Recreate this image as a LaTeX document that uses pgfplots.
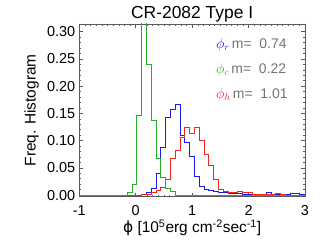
\documentclass[border=0pt]{standalone}
\usepackage{fontspec}
\setmainfont{Liberation Sans}
\newfontfamily\dejavu{DejaVu Sans}
\usepackage{pgfplots}
\pgfplotsset{compat=1.18}
\definecolor{hblue}{RGB}{25,25,245}
\definecolor{hgreen}{RGB}{40,175,40}
\definecolor{hred}{RGB}{245,35,35}
\definecolor{txtgray}{RGB}{115,115,115}
\pgfplotstableread{
x y
-1 0
0.105 0.001
0.19 0.004
0.275 0.012
0.36 0.039
0.445 0.087
0.53 0.142
0.615 0.158
0.70 0.166
0.785 0.110
0.87 0.097
0.955 0.070
1.04 0.035
1.125 0.016
1.21 0.011
1.295 0.008
1.38 0.006
1.465 0.005
1.55 0.004
1.635 0.003
1.72 0.003
1.805 0.003
1.89 0.002
1.975 0.002
2.06 0.001
2.145 0.002
2.23 0.002
2.315 0.004
2.40 0.001
2.485 0.001
2.57 0
2.655 0.001
2.74 0.003
2.825 0.003
2.91 0.001
2.995 0
3 0
}\bluedata
\pgfplotstableread{
x y
-1 0
0.105 0.001
0.19 0.002
0.275 0.004
0.36 0.008
0.445 0.014
0.53 0.028
0.615 0.067
0.70 0.081
0.785 0.106
0.87 0.124
0.955 0.114
1.04 0.124
1.125 0.101
1.21 0.075
1.295 0.055
1.38 0.028
1.465 0.011
1.55 0.006
1.635 0.005
1.72 0.004
1.805 0.007
1.89 0.004
1.975 0.004
2.06 0.002
2.145 0.002
2.23 0.001
2.315 0.001
2.40 0.001
2.485 0.003
2.57 0.001
2.655 0
3 0
}\reddata
\pgfplotstableread{
x y
-1 0
-0.15 0.004
-0.065 0.020
0.02 0.147
0.105 0.335
0.19 0.240
0.275 0.137
0.36 0.068
0.445 0.033
0.53 0.013
0.615 0.006
0.70 0
3 0
}\greendata
\begin{document}
\begin{tikzpicture}
\useasboundingbox (-79.3bp,-50.3bp) rectangle (249.7bp,196.7bp);
\begin{axis}[
  at={(0,0)}, anchor=south west, scale only axis,
  width=225.7bp, height=172.7bp,
  xmin=-1, xmax=3, ymin=-0.003, ymax=0.314,
  xtick={-1,0,1,2,3}, xticklabels={-1,0,1,2,3},
  ytick={0,0.05,0.1,0.15,0.2,0.25,0.3},
  yticklabels={0.00,0.05,0.10,0.15,0.20,0.25,0.30},
  minor x tick num=9, minor y tick num=4,
  tick align=inside, major tick length=4bp, minor tick length=2bp,
  axis line style={black!65, line width=0.6bp},
  every tick/.style={black!65, line width=0.5bp},
  tick label style={font=\fontsize{14.5}{16}\selectfont},
  xticklabel style={yshift=-5.5bp},
  yticklabel style={xshift=-0.5bp},
  every axis x label/.style={at={(axis description cs:0.5,-0.18)}, anchor=center},
  every axis y label/.style={at={(axis description cs:-0.211,0.5)}, rotate=90, anchor=center},
  label style={font=\fontsize{15.5}{17}\selectfont},
  xlabel={{\dejavu ϕ} [10\textsuperscript{5}erg cm\textsuperscript{-2}sec\textsuperscript{-1}]},
  ylabel={Freq. Histogram},
  title={CR-2082 Type I},
  every axis title/.style={at={(axis description cs:0.5,1.033)}, anchor=base, font=\fontsize{17.5}{20}\selectfont},
]
\addplot[const plot mark left, hblue, line width=0.9bp] table[x=x,y=y] {\bluedata};
\addplot[const plot mark left, hred, line width=0.9bp] table[x=x,y=y] {\reddata};
\addplot[const plot mark left, hgreen, line width=0.9bp] table[x=x,y=y] {\greendata};
\node[anchor=west, font=\fontsize{14}{16}\selectfont, inner sep=0pt] at (rel axis cs:0.605,0.878) {\textcolor{hblue}{$\phi_{r}$}\,\textcolor{txtgray}{m=\ \ 0.74}};
\node[anchor=west, font=\fontsize{14}{16}\selectfont, inner sep=0pt] at (rel axis cs:0.605,0.734) {\textcolor{hgreen}{$\phi_{c}$}\,\textcolor{txtgray}{m=\ \ 0.22}};
\node[anchor=west, font=\fontsize{14}{16}\selectfont, inner sep=0pt] at (rel axis cs:0.605,0.589) {\textcolor{hred}{$\phi_{h}$}\,\textcolor{txtgray}{m=\ \ 1.01}};
\end{axis}
\end{tikzpicture}
\end{document}
